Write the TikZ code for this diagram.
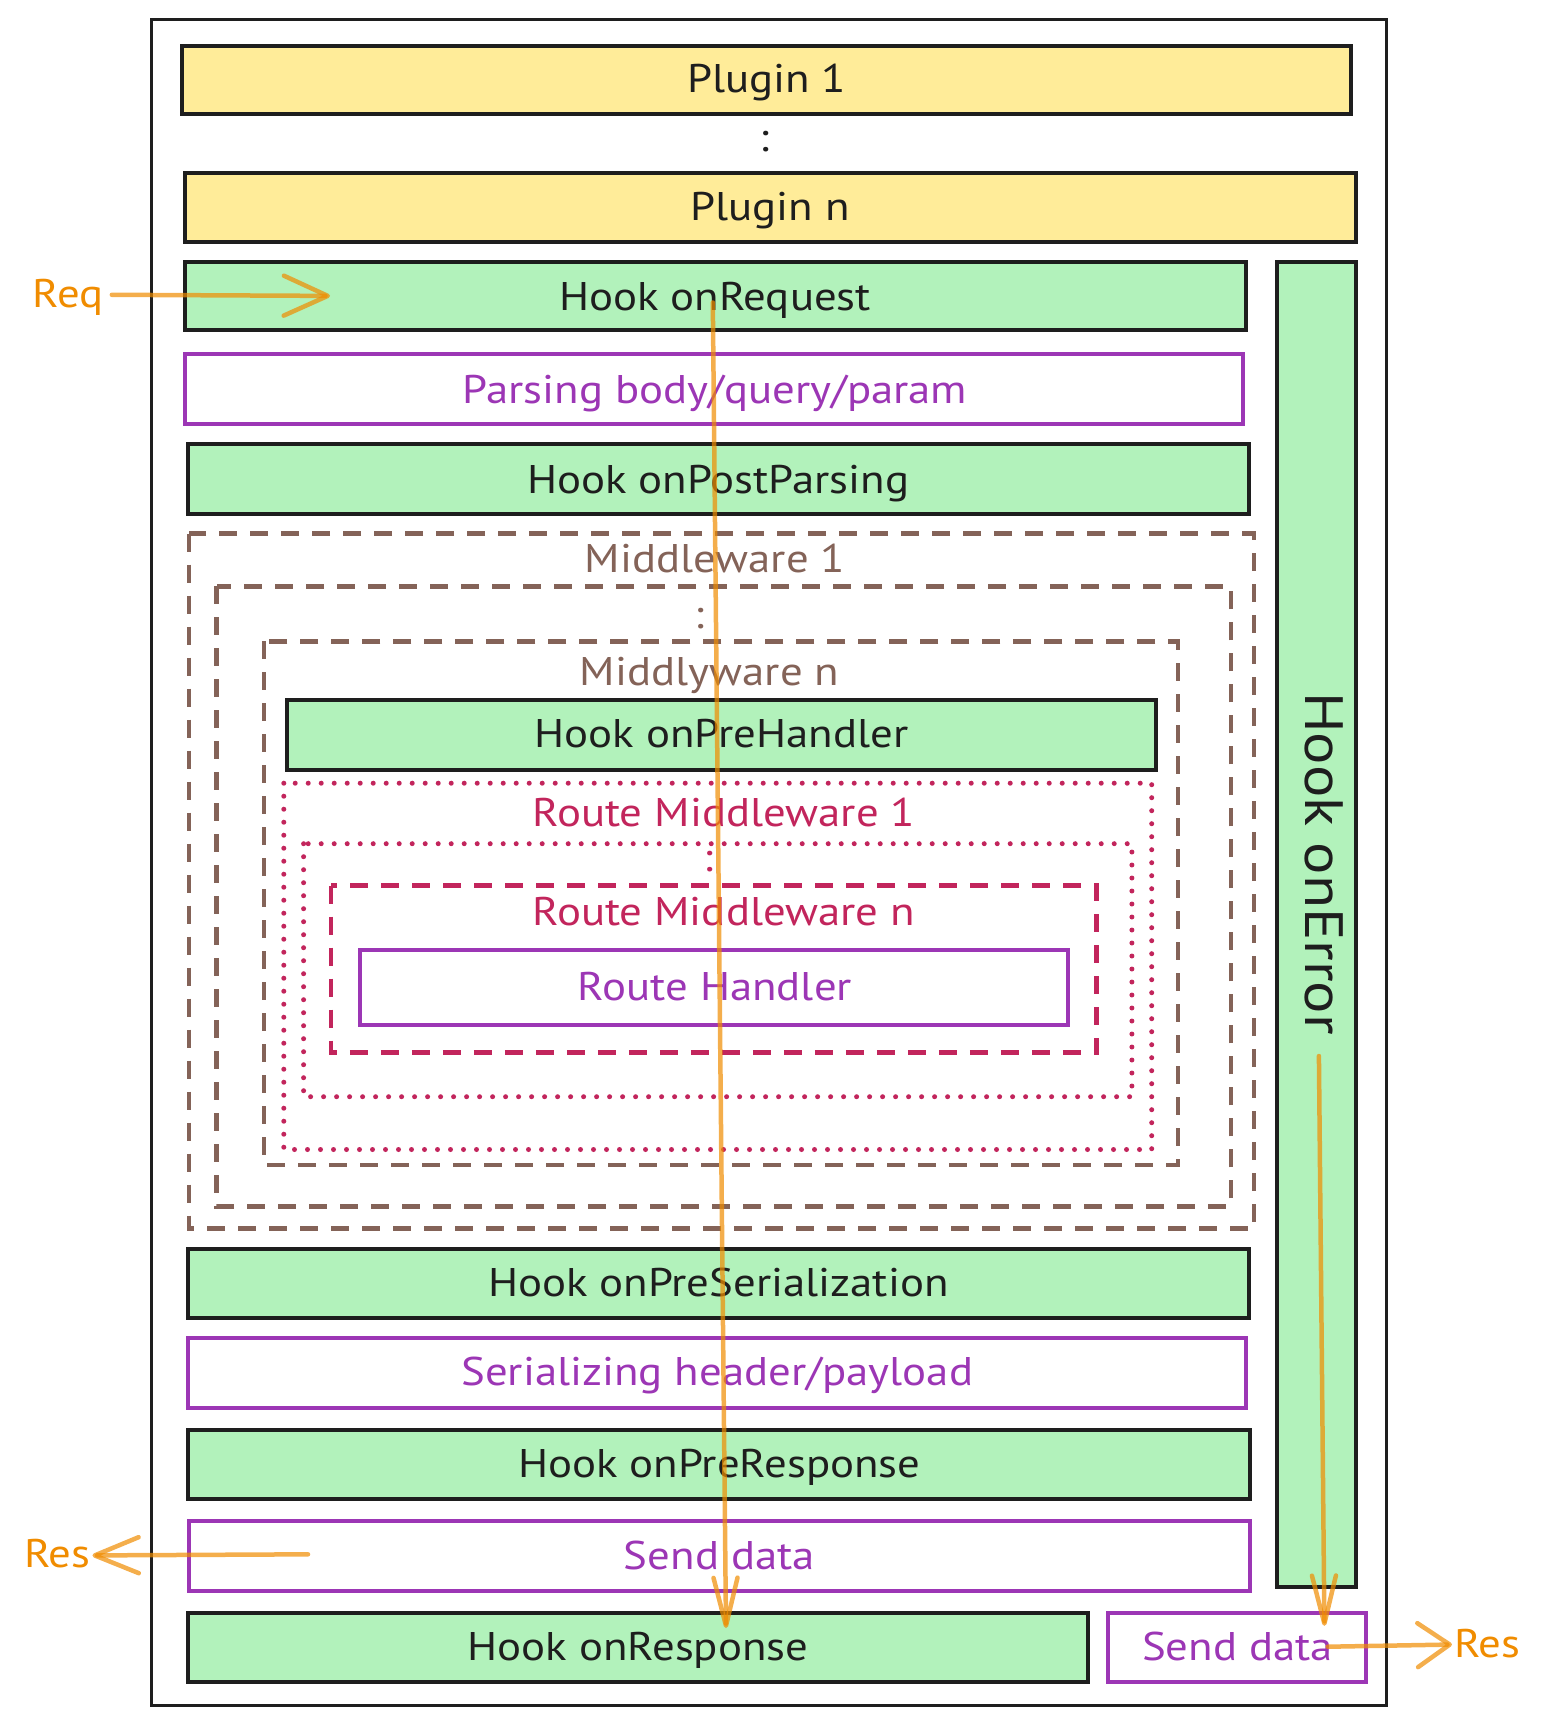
\documentclass[tikz,border=0pt]{standalone}
\usepackage{fontspec}
\setmainfont{PT Sans}[FakeStretch=1.12]
\usetikzlibrary{arrows.meta}
\definecolor{ink}{HTML}{1E1E1E}
\definecolor{plugfill}{HTML}{FFEC99}
\definecolor{hookfill}{HTML}{B2F2BB}
\definecolor{work}{HTML}{9C36B5}
\definecolor{mw}{HTML}{846358}
\definecolor{rm}{HTML}{C2255C}
\definecolor{flowc}{HTML}{F08C00}
\begin{document}
\begin{tikzpicture}[x=1.1pt, y=-1.1pt,
    plugbox/.style={draw=ink, fill=plugfill, line width=4pt},
    hookbox/.style={draw=ink, fill=hookfill, line width=4pt},
    workbox/.style={draw=work, fill=white, line width=4pt},
    mwbox/.style={draw=mw, line width=4.5pt, dash pattern=on 18pt off 13pt},
    rmdot/.style={draw=rm, line width=5pt, line cap=round, dash pattern=on 0pt off 13pt},
    rmdash/.style={draw=rm, line width=4.5pt, dash pattern=on 18pt off 13pt},
    lbl/.style={font=\fontsize{40}{48}\selectfont, inner sep=0pt, text=ink,
        text height=28pt, text depth=3pt},
    flow/.style={draw=flowc, draw opacity=0.7, line width=4.5pt, line cap=round}]
    % 画像の大きさを固定
    \useasboundingbox (0,0) rectangle (1405.5,1570.9);

    % 外枠
    \draw[ink, line width=3pt] (138,18) rectangle (1260,1550);

    % プラグイン
    \draw[plugbox] (165,42) rectangle (1228,104);
    \node[lbl] (plugone) at (697,73) {Plugin 1};
    \node[lbl] (plugdots) at (695,126) {:};
    \draw[plugbox] (168,157) rectangle (1233,220);
    \node[lbl] (plugn) at (700,189) {Plugin n};

    % リクエスト側のフック
    \draw[hookbox] (168,238) rectangle (1133,300);
    \node[lbl] (onrequest) at (650,271) {Hook onRequest};
    \draw[workbox] (168,322) rectangle (1130,385);
    \node[lbl, text=work] (parsing) at (650,355) {Parsing body/query/param};
    \draw[hookbox] (171,404) rectangle (1135,467);
    \node[lbl] (onpostparsing) at (653,437) {Hook onPostParsing};

    % エラー用のフック(縦長)
    \draw[hookbox] (1161,238) rectangle (1233,1443);
    \node[lbl, font=\fontsize{54}{60}\selectfont, text height=38pt, text depth=12pt,
        rotate=-90] (onerror) at (1199,785) {Hook onError};

    % ミドルウェア(破線)
    \draw[mwbox] (172,485) rectangle (1140,1117);
    \node[lbl, text=mw] (mwone) at (650,509) {Middleware 1};
    \draw[mwbox] (197,533) rectangle (1119,1097);
    \node[lbl, text=mw] (mwdots) at (636,560) {:};
    \draw[mwbox] (240,583) rectangle (1071,1059);
    \node[lbl, text=mw] (mwn) at (645,612) {Middlyware n};
    \draw[hookbox] (261,636) rectangle (1051,700);
    \node[lbl] (onprehandler) at (656,668) {Hook onPreHandler};

    % ルートミドルウェア(点線・破線)
    \draw[rmdot] (258,712) rectangle (1047,1045);
    \node[lbl, text=rm] (rmone) at (658,740) {Route Middleware 1};
    \draw[rmdot] (276,767) rectangle (1029,997);
    \node[lbl, text=rm] (rmdots) at (644,781) {:};
    \draw[rmdash] (301,805) rectangle (997,957);
    \node[lbl, text=rm] (rmn) at (658,830) {Route Middleware n};
    \draw[workbox] (327,864) rectangle (971,932);
    \node[lbl, text=work] (handler) at (650,898) {Route Handler};

    % レスポンス側のフック
    \draw[hookbox] (171,1135) rectangle (1135,1198);
    \node[lbl] (onpreserial) at (653,1167) {Hook onPreSerialization};
    \draw[workbox] (171,1216) rectangle (1133,1280);
    \node[lbl, text=work] (serializing) at (652,1248) {Serializing header/payload};
    \draw[hookbox] (171,1300) rectangle (1136,1363);
    \node[lbl] (onpreresponse) at (654,1332) {Hook onPreResponse};
    \draw[workbox] (172,1383) rectangle (1136,1446);
    \node[lbl, text=work] (senddata) at (654,1415) {Send data};
    \draw[hookbox] (171,1466) rectangle (989,1529);
    \node[lbl] (onresponse) at (580,1498) {Hook onResponse};
    \draw[workbox] (1007,1466) rectangle (1242,1529);
    \node[lbl, text=work] (senderr) at (1125,1498) {Send data};

    % 流れの矢印
    \node[lbl, text=flowc] (req) at (62,268) {Req};
    \node[lbl, text=flowc] (resleft) at (52,1414) {Res};
    \node[lbl, text=flowc] (resright) at (1352,1495) {Res};
    \coordinate (reqend) at (300,269);
    \coordinate (flowtop) at (648,275);
    \coordinate (flowbot) at (660,1480);
    \coordinate (resstart) at (280,1413);
    \coordinate (errtop) at (1199,960);
    \coordinate (errbot) at (1204,1478);
    \coordinate (errout) at (1207,1497);
    \draw[flow, -{Straight Barb[length=44pt 0, width=40pt 0, round]}] ([xshift=8pt]req.east) -- (reqend);
    \draw[flow, -{Straight Barb[length=48pt 0, width=24pt 0, round]}] (flowtop) -- (flowbot);
    \draw[flow, -{Straight Barb[length=44pt 0, width=36pt 0, round]}] (resstart) -- ([xshift=2pt]resleft.east);
    \draw[flow, -{Straight Barb[length=48pt 0, width=24pt 0, round]}] (errtop) -- (errbot);
    \draw[flow, -{Straight Barb[length=32pt 0, width=44pt 0, round]}] (errout) -- ([xshift=-2pt]resright.west);
\end{tikzpicture}
\end{document}
